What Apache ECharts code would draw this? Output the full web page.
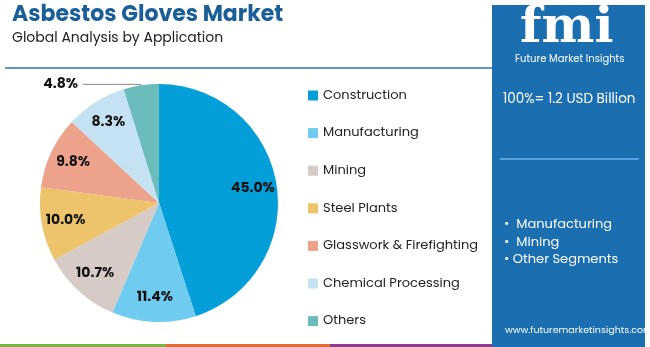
<!DOCTYPE html>
<html><head><meta charset="utf-8">
<script src="https://cdn.jsdelivr.net/npm/echarts@6/dist/echarts.min.js"></script>
<style>html,body{margin:0;padding:0;background:#fff}#c{width:650px;height:347px}</style>
</head><body><div id="c"></div>
<script>
var categories = ['Construction','Manufacturing','Mining','Steel Plants','Glasswork & Firefighting','Chemical Processing','Others'];
var values = [45.0, 11.4, 10.7, 10.0, 9.8, 8.3, 4.8];
var colors = ['#049fd9','#6fcbef','#d6cbc7','#edc46b','#eca28b','#c5e2f3','#6bbcba'];
var panelBullets = ['•  Manufacturing','•  Mining','• Other Segments'];

var chart = echarts.init(document.getElementById('c'));
var F = 'Poppins, "Open Sans", Lato, sans-serif';
var mainData = categories.map(function(n,i){return {name:n,value:values[i],itemStyle:{color:colors[i]}};});
var labelData = categories.map(function(n,i){
  var d = {name:n,value:values[i]};
  if (i === categories.length-1) {
    d.label = {position:'outside', show:true};
    d.labelLine = {show:true, length:2, length2:58, lineStyle:{color:'#888', width:1}};
  }
  return d;
});
chart.setOption({
  animation:false,
  legend:{
    orient:'vertical', left:303, top:84, itemGap:24.6, icon:'rect', itemWidth:10, itemHeight:10,
    data:categories, selectedMode:false,
    textStyle:{fontFamily:F, fontSize:13, color:'#222'}
  },
  graphic:[
    {type:'rect', shape:{x:492,y:5,width:153,height:342}, style:{fill:'#1b6fb1'}},
    {type:'line', shape:{x1:5,y1:68,x2:492,y2:68}, style:{stroke:'#2b73b0',lineWidth:1.5}},
    {type:'rect', shape:{x:0,y:344,width:166,height:3}, style:{fill:'#7cb342'}},
    {type:'rect', shape:{x:166,y:344,width:164,height:3}, style:{fill:'#e56a35'}},
    {type:'rect', shape:{x:330,y:344,width:162,height:3}, style:{fill:'#8e3a8f'}},
    {type:'text', left:12, top:4, style:{text:'Asbestos Gloves Market', fontFamily:F, fontSize:22, fontWeight:'bold', fill:'#1a5f98'}},
    {type:'text', left:12, top:31, style:{text:'Global Analysis by Application', fontFamily:F, fontSize:14, fill:'#222'}},
    {type:'text', left:520, top:4, style:{text:'fmi', fontFamily:'"DejaVu Serif", serif', fontSize:50, fontWeight:'bold', fill:'#fff'}},
    {type:'text', left:515, top:54, style:{text:'Future Market Insights', fontFamily:F, fontSize:10, fill:'#fff'}},
    {type:'text', left:503, top:93, style:{text:'100%= 1.2 USD Billion', fontFamily:F, fontSize:13.5, fill:'#fff'}},
    {type:'line', shape:{x1:500,y1:159,x2:639,y2:159}, style:{stroke:'#6fb2e8',lineWidth:1.5}},
    {type:'text', left:504, top:216, style:{text:panelBullets.join('\n'), fontFamily:F, fontSize:13, lineHeight:17.5, fill:'#fff'}},
    {type:'text', left:505, top:326, style:{text:'www.futuremarketinsights.com', fontFamily:F, fontSize:9.5, fill:'#fff'}}
  ],
  series:[
    {type:'pie', center:[159,203], radius:[0,119], startAngle:90, clockwise:true, silent:true,
     label:{show:false}, labelLine:{show:false}, data:mainData},
    {type:'pie', center:[159,203], radius:[66,118], startAngle:90, clockwise:true, silent:true,
     itemStyle:{color:'rgba(0,0,0,0)'},
     label:{show:true, position:'inside', formatter:function(p){return p.value.toFixed(1)+'%';},
            fontFamily:F, fontSize:14, fontWeight:'bold', color:'#111'},
     labelLine:{show:false}, data:labelData}
  ]
});
</script></body></html>
